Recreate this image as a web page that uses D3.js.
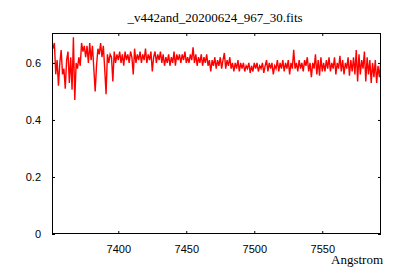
<!DOCTYPE html>
<html>
<head>
<meta charset="utf-8">
<script src="https://cdn.jsdelivr.net/npm/d3@7"></script>
<style>
  body { margin: 0; background: #fff; }
  svg { display: block; }
</style>
</head>
<body>
<div id="chart"></div>
<script>
const title = "_v442and_20200624_967_30.fits";
const xLabel = "Angstrom";

const wavelength = [
    7351, 7352, 7353, 7354, 7355, 7356, 7357, 7358, 7359, 7360,
    7361, 7362, 7363, 7364, 7365, 7366, 7367, 7368, 7369, 7370,
    7371, 7372, 7373, 7374, 7375, 7376, 7377, 7378, 7379, 7380,
    7381, 7382, 7383, 7384, 7385, 7386, 7387, 7388, 7389, 7390,
    7391, 7392, 7393, 7394, 7395, 7396, 7397, 7398, 7399, 7400,
    7401, 7402, 7403, 7404, 7405, 7406, 7407, 7408, 7409, 7410,
    7411, 7412, 7413, 7414, 7415, 7416, 7417, 7418, 7419, 7420,
    7421, 7422, 7423, 7424, 7425, 7426, 7427, 7428, 7429, 7430,
    7431, 7432, 7433, 7434, 7435, 7436, 7437, 7438, 7439, 7440,
    7441, 7442, 7443, 7444, 7445, 7446, 7447, 7448, 7449, 7450,
    7451, 7452, 7453, 7454, 7455, 7456, 7457, 7458, 7459, 7460,
    7461, 7462, 7463, 7464, 7465, 7466, 7467, 7468, 7469, 7470,
    7471, 7472, 7473, 7474, 7475, 7476, 7477, 7478, 7479, 7480,
    7481, 7482, 7483, 7484, 7485, 7486, 7487, 7488, 7489, 7490,
    7491, 7492, 7493, 7494, 7495, 7496, 7497, 7498, 7499, 7500,
    7501, 7502, 7503, 7504, 7505, 7506, 7507, 7508, 7509, 7510,
    7511, 7512, 7513, 7514, 7515, 7516, 7517, 7518, 7519, 7520,
    7521, 7522, 7523, 7524, 7525, 7526, 7527, 7528, 7529, 7530,
    7531, 7532, 7533, 7534, 7535, 7536, 7537, 7538, 7539, 7540,
    7541, 7542, 7543, 7544, 7545, 7546, 7547, 7548, 7549, 7550,
    7551, 7552, 7553, 7554, 7555, 7556, 7557, 7558, 7559, 7560,
    7561, 7562, 7563, 7564, 7565, 7566, 7567, 7568, 7569, 7570,
    7571, 7572, 7573, 7574, 7575, 7576, 7577, 7578, 7579, 7580,
    7581, 7582, 7583, 7584, 7585, 7586, 7587, 7588, 7589, 7590,
    7591, 7592, 7593
];

const flux = [
    0.68, 0.65, 0.67, 0.56, 0.61, 0.52, 0.60, 0.645, 0.56, 0.58,
    0.51, 0.61, 0.64, 0.53, 0.62, 0.506, 0.69, 0.47, 0.60, 0.58,
    0.62, 0.59, 0.67, 0.64, 0.66, 0.62, 0.66, 0.60, 0.67, 0.61,
    0.66, 0.58, 0.50, 0.59, 0.65, 0.63, 0.67, 0.62, 0.66, 0.58,
    0.49, 0.63, 0.60, 0.63, 0.62, 0.535, 0.64, 0.60, 0.63, 0.61,
    0.64, 0.60, 0.63, 0.59, 0.64, 0.61, 0.63, 0.60, 0.64, 0.62,
    0.56, 0.65, 0.60, 0.63, 0.61, 0.64, 0.60, 0.63, 0.61, 0.65,
    0.60, 0.63, 0.61, 0.64, 0.57, 0.62, 0.64, 0.60, 0.63, 0.61,
    0.64, 0.60, 0.63, 0.59, 0.62, 0.60, 0.63, 0.59, 0.62, 0.60,
    0.64, 0.59, 0.63, 0.61, 0.63, 0.60, 0.63, 0.61, 0.64, 0.60,
    0.62, 0.60, 0.63, 0.61, 0.655, 0.60, 0.63, 0.59, 0.62, 0.60,
    0.63, 0.59, 0.62, 0.60, 0.63, 0.59, 0.61, 0.57, 0.61, 0.59,
    0.62, 0.58, 0.61, 0.59, 0.62, 0.58, 0.61, 0.635, 0.58, 0.61,
    0.59, 0.62, 0.58, 0.60, 0.57, 0.60, 0.58, 0.61, 0.57, 0.60,
    0.58, 0.60, 0.57, 0.59, 0.58, 0.60, 0.565, 0.59, 0.57, 0.60,
    0.58, 0.60, 0.57, 0.59, 0.58, 0.60, 0.565, 0.59, 0.61, 0.57,
    0.60, 0.58, 0.60, 0.56, 0.59, 0.58, 0.61, 0.57, 0.60, 0.58,
    0.61, 0.57, 0.60, 0.58, 0.61, 0.56, 0.60, 0.58, 0.646, 0.58,
    0.60, 0.57, 0.61, 0.58, 0.60, 0.57, 0.61, 0.59, 0.62, 0.57,
    0.60, 0.55, 0.60, 0.58, 0.63, 0.56, 0.61, 0.555, 0.62, 0.57,
    0.60, 0.57, 0.61, 0.58, 0.62, 0.57, 0.60, 0.58, 0.62, 0.56,
    0.60, 0.58, 0.625, 0.57, 0.61, 0.56, 0.60, 0.58, 0.62, 0.555,
    0.61, 0.57, 0.62, 0.56, 0.645, 0.535, 0.63, 0.56, 0.61, 0.58,
    0.64, 0.535, 0.62, 0.56, 0.61, 0.53, 0.60, 0.55, 0.61, 0.53,
    0.59, 0.55, 0.60
];

const xTicks = [7400, 7450, 7500, 7550];
const yTicks = [0, 0.2, 0.4, 0.6];
const yTickLabels = ["0", "0.2", "0.4", "0.6"];

const width = 400, height = 280;
const mLeft = 52, mRight = 381, mTop = 33, mBottom = 234;

const svg = d3.select("#chart").append("svg")
    .attr("width", width)
    .attr("height", height)
    .style("background", "#fff");

const x = d3.scaleLinear().domain([7351.25, 7593.2]).range([mLeft, mRight]);
const y = d3.scaleLinear().domain([0, 0.705]).range([mBottom, mTop]);

// clip the spectrum to the frame
svg.append("clipPath").attr("id", "clip")
    .append("rect")
    .attr("x", mLeft).attr("y", mTop)
    .attr("width", mRight - mLeft).attr("height", mBottom - mTop);

const pts = wavelength.map((w, i) => [w, flux[i]]);
const line = d3.line().x(d => x(d[0])).y(d => y(d[1]));

svg.append("path")
    .datum(pts)
    .attr("clip-path", "url(#clip)")
    .attr("fill", "none")
    .attr("stroke", "#ff0000")
    .attr("stroke-width", 1.4)
    .attr("d", line);

const tickFont = g => g.selectAll("text")
    .attr("font-family", "'Liberation Sans', Arial, sans-serif")
    .attr("font-size", 11)
    .attr("fill", "#000");

// ticks point inwards, mirrored on top and right like gnuplot
svg.append("g")
    .attr("transform", `translate(0,${mBottom})`)
    .call(d3.axisBottom(x).tickValues(xTicks).tickSize(-3).tickPadding(11).tickFormat(d3.format("d")))
    .call(g => g.select(".domain").remove())
    .call(tickFont);

svg.append("g")
    .attr("transform", `translate(0,${mTop})`)
    .call(d3.axisTop(x).tickValues(xTicks).tickSize(-3).tickFormat(""))
    .call(g => g.select(".domain").remove());

svg.append("g")
    .attr("transform", `translate(${mLeft},0)`)
    .call(d3.axisLeft(y).tickValues(yTicks).tickSize(-3).tickPadding(11)
        .tickFormat((d, i) => yTickLabels[i]))
    .call(g => g.select(".domain").remove())
    .call(tickFont);

svg.append("g")
    .attr("transform", `translate(${mRight},0)`)
    .call(d3.axisRight(y).tickValues(yTicks).tickSize(-3).tickFormat(""))
    .call(g => g.select(".domain").remove());

svg.selectAll(".tick line").attr("stroke", "#000");

svg.append("rect")
    .attr("x", mLeft + 0.5).attr("y", mTop + 0.5)
    .attr("width", mRight - mLeft - 1).attr("height", mBottom - mTop - 1)
    .attr("fill", "none")
    .attr("stroke", "#000")
    .attr("stroke-width", 1);

svg.append("text")
    .attr("x", 215).attr("y", 22)
    .attr("text-anchor", "middle")
    .attr("font-family", "'Liberation Serif', 'Times New Roman', serif")
    .attr("font-size", 13)
    .text(title);

svg.append("text")
    .attr("x", 383).attr("y", 264)
    .attr("text-anchor", "end")
    .attr("font-family", "'Liberation Serif', 'Times New Roman', serif")
    .attr("font-size", 13)
    .text(xLabel);
</script>
</body>
</html>
